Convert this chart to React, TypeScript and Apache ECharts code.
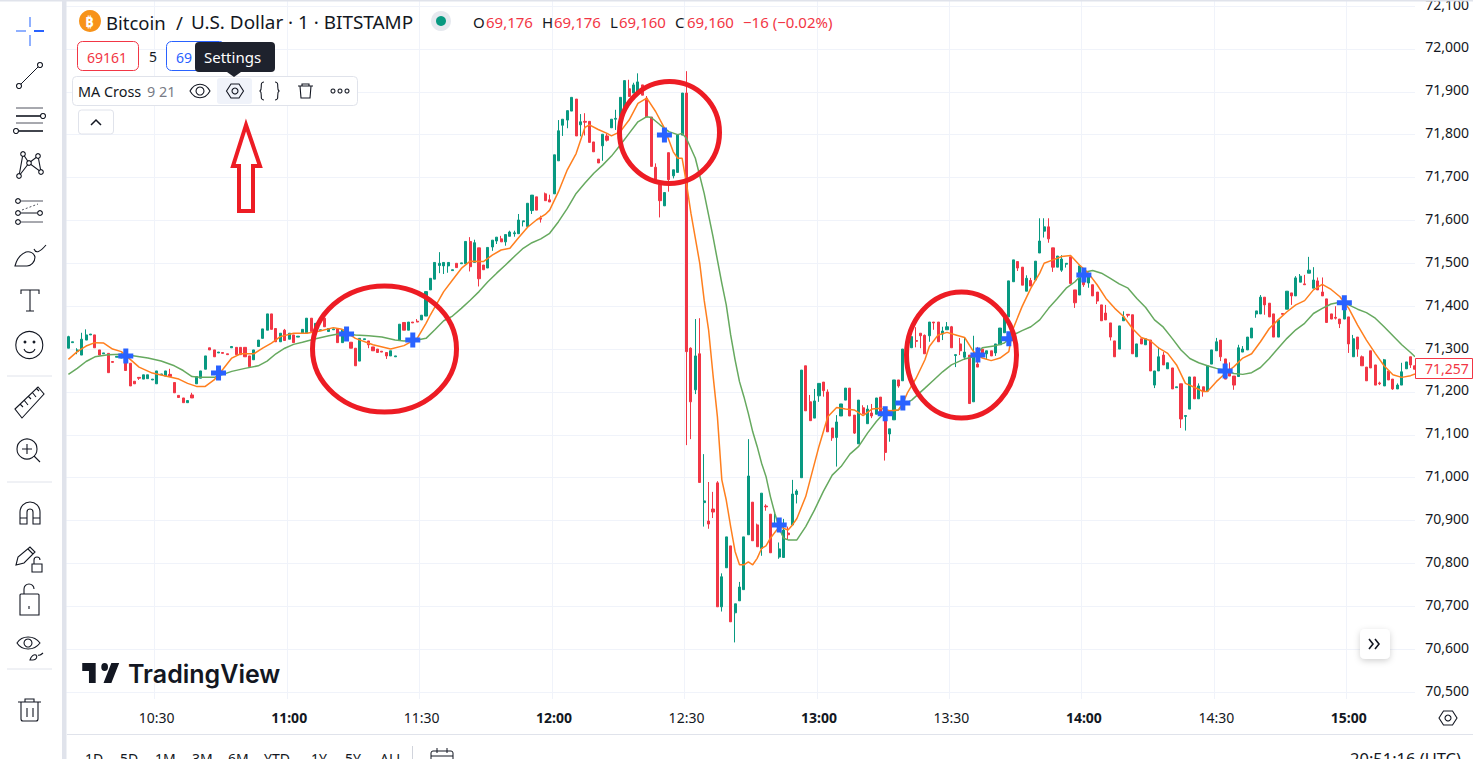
import React, { useEffect, useRef } from "react";
import * as echarts from "echarts";

const FONT = '"Noto Sans", sans-serif';
const INK = "#131722";
const RED = "#f23645";
const GREEN = "#089981";
const MARK_RED = "#ed1c24";
const BLUE = "#2962ff";
const GRID = "#f0f3fa";

const START_MINUTE = 10 * 60 + 10;
const priceTicks = [70500, 70600, 70700, 70800, 70900, 71000, 71100, 71200, 71300, 71400, 71500, 71600, 71700, 71800, 71900, 72000, 72100];

// [open, close, low, high] per minute
const candlesA = [
[71302,71329,71302,71331],[71315,71317,71315,71317],[71294,71298,71288,71302],[71286,71323,71286,71338],[71321,71333,71321,71346],[71333,71335,71333,71335],[71333,71303,71303,71333],[71298,71286,71286,71298],[71289,71291,71289,71291],[71290,71245,71245,71290],
[71271,71269,71269,71271],[71281,71283,71281,71283],[71279,71288,71279,71290],[71286,71250,71250,71298],[71267,71214,71214,71267],[71225,71219,71219,71225],[71234,71232,71228,71234],[71230,71240,71230,71240],[71231,71240,71231,71240],[71228,71230,71228,71230],
[71219,71249,71219,71249],[71240,71242,71240,71242],[71237,71249,71237,71249],[71241,71236,71236,71254],[71222,71198,71198,71222],[71192,71187,71187,71192],[71186,71175,71175,71186],[71175,71180,71175,71180],[71193,71186,71186,71198],[71219,71236,71219,71236],
[71232,71249,71232,71249],[71253,71284,71253,71284],[71303,71298,71298,71303],[71298,71282,71282,71298],[71291,71293,71291,71293],[71292,71290,71290,71292],[71289,71287,71287,71289],[71303,71306,71303,71306],[71304,71287,71287,71304],[71304,71287,71287,71304],
[71304,71282,71282,71304],[71284,71259,71259,71284],[71275,71298,71275,71298],[71306,71321,71306,71321],[71325,71347,71325,71347],[71344,71382,71344,71382],[71382,71346,71346,71382],[71348,71317,71317,71348],[71317,71337,71317,71337],[71344,71320,71320,71347],
[71323,71337,71323,71337],[71333,71315,71315,71333],[71328,71330,71328,71330],[71337,71346,71337,71346],[71337,71372,71337,71372],[71372,71341,71341,71372],[71344,71360,71344,71360],[71343,71345,71343,71345],[71372,71352,71352,71372],[71341,71348,71341,71348],
[71345,71347,71345,71347],[71348,71315,71315,71348],[71315,71345,71315,71345],[71345,71333,71333,71345],[71316,71302,71302,71316],[71302,71261,71261,71302],[71272,71325,71272,71325],[71322,71324,71322,71324],[71319,71310,71302,71319],[71305,71296,71296,71305],
[71300,71292,71292,71300],[71295,71293,71293,71295],[71292,71284,71277,71292],[71284,71296,71284,71296],[71282,71284,71282,71284],[71320,71358,71320,71358],[71362,71344,71344,71362],[71344,71363,71344,71363],[71363,71361,71361,71363],[71365,71363,71363,71370],
];
const candlesB = [
[71368,71379,71368,71379],[71377,71434,71377,71434],[71438,71465,71438,71465],[71463,71502,71463,71502],[71495,71500,71477,71526],[71494,71502,71475,71502],[71494,71502,71478,71502],[71483,71485,71483,71485],[71500,71490,71490,71500],[71499,71501,71499,71501],
[71499,71551,71499,71551],[71551,71492,71481,71561],[71502,71548,71502,71555],[71536,71464,71446,71536],[71496,71485,71485,71496],[71489,71537,71489,71537],[71538,71554,71529,71554],[71552,71561,71545,71561],[71557,71550,71550,71564],[71550,71567,71541,71567],
[71563,71573,71563,71576],[71569,71571,71562,71576],[71569,71601,71569,71615],[71597,71599,71586,71599],[71586,71640,71586,71640],[71623,71659,71615,71659],[71655,71624,71624,71655],[71605,71603,71595,71611],[71662,71646,71646,71665],[71648,71643,71643,71660],
[71662,71753,71662,71753],[71739,71809,71739,71834],[71822,71836,71797,71836],[71834,71856,71815,71856],[71855,71887,71855,71887],[71883,71797,71797,71883],[71823,71830,71796,71848],[71831,71829,71798,71850],[71831,71782,71782,71831],[71783,71760,71760,71783],
[71743,71734,71734,71743],[71774,71801,71739,71801],[71797,71787,71784,71803],[71816,71836,71816,71836],[71836,71838,71811,71858],[71834,71887,71834,71887],[71858,71926,71858,71926],[71907,71889,71889,71928],[71897,71916,71897,71921],[71897,71923,71897,71943],
[71916,71892,71892,71916],[71885,71841,71841,71890],[71841,71726,71726,71841],[71724,71695,71695,71733],[71683,71646,71607,71683],[71634,71665,71634,71665],[71758,71695,71667,71758],[71704,71718,71698,71718],[71712,71799,71712,71799],[71799,71897,71799,71897],
];
const candlesC = [
[71897,71294,71076,71948],[71302,71177,71090,71304],[71205,71284,71195,71370],[71289,70989,70989,71372],[70942,70946,70886,71055],[70899,70892,70881,70990],[70927,70920,70906,70967],[70988,70699,70699,70992],[70699,70769,70688,70777],[70790,70862,70790,70862],
[70841,70664,70664,70841],[70685,70706,70616,70706],[70713,70745,70713,70757],[70739,70862,70739,70862],[70867,71004,70867,71090],[70943,70853,70853,70943],[70890,70839,70839,70893],[70835,70964,70818,70964],[70934,70932,70923,70938],[70915,70825,70825,70915],
[70890,70893,70886,70922],[70815,70834,70811,70849],[70814,70878,70814,70904],[70871,70867,70855,70886],[70890,70962,70890,70995],[70961,70969,70940,70973],[71000,71251,71000,71251],[71261,71156,71156,71261],[71177,71133,71133,71193],[71139,71179,71139,71207],
[71191,71220,71177,71220],[71223,71203,71189,71223],[71200,71107,71107,71206],[71116,71093,71086,71116],[71094,71130,71026,71146],[71144,71172,71144,71172],[71181,71209,71181,71209],[71209,71144,71144,71209],[71146,71104,71102,71146],[71079,71181,71079,71181],
[71163,71149,71149,71169],[71126,71160,71126,71169],[71151,71144,71139,71172],[71148,71186,71148,71186],[71188,71151,71151,71188],[71156,71059,71040,71156],[71102,71114,71084,71114],[71135,71228,71135,71228],[71228,71214,71210,71228],[71226,71300,71226,71300],
];
const candlesD = [
[71289,71298,71289,71298],[71303,71329,71303,71329],[71320,71318,71304,71351],[71337,71331,71302,71337],[71332,71289,71289,71334],[71331,71363,71317,71363],[71363,71361,71345,71363],[71363,71317,71317,71363],[71335,71342,71321,71352],[71345,71352,71345,71363],
[71352,71303,71303,71354],[71285,71287,71258,71287],[71312,71296,71286,71326],[71281,71293,71275,71326],[71286,71173,71173,71286],[71177,71286,71177,71331],[71265,71258,71258,71305],[71300,71289,71289,71300],[71289,71296,71277,71296],[71296,71284,71284,71296],
[71291,71312,71284,71312],[71310,71349,71310,71349],[71338,71375,71338,71375],[71375,71459,71375,71459],[71457,71508,71457,71508],[71504,71489,71482,71504],[71491,71449,71449,71491],[71435,71465,71435,71472],[71460,71447,71447,71466],[71461,71505,71461,71505],
[71524,71552,71524,71605],[71575,71585,71560,71605],[71585,71557,71548,71605],[71536,71491,71480,71536],[71491,71517,71491,71517],[71484,71510,71480,71519],[71498,71500,71490,71500],[71515,71453,71453,71515],[71438,71408,71396,71438],[71426,71494,71426,71494],
[71482,71450,71445,71482],[71454,71473,71443,71473],[71450,71424,71424,71450],[71433,71412,71405,71433],[71403,71366,71366,71403],[71384,71368,71368,71403],[71361,71328,71320,71361],[71319,71282,71282,71319],[71300,71354,71300,71354],[71366,71375,71366,71388],
[71381,71379,71374,71381],[71380,71289,71289,71380],[71282,71312,71282,71312],[71324,71312,71312,71324],[71310,71324,71310,71324],[71321,71249,71249,71321],[71216,71249,71209,71249],[71249,71282,71249,71305],[71286,71263,71263,71293],[71254,71268,71254,71268],
[71256,71207,71207,71256],[71210,71212,71210,71212],
];
const candlesE = [
[71219,71137,71116,71219],[71143,71145,71110,71145],[71160,71235,71160,71235],[71235,71184,71184,71235],[71184,71214,71184,71220],[71212,71201,71189,71212],[71202,71261,71202,71261],[71265,71298,71265,71298],[71296,71317,71296,71326],[71321,71282,71272,71321],
[71277,71230,71230,71277],[71247,71237,71237,71269],[71237,71216,71205,71237],[71236,71303,71236,71310],[71293,71300,71293,71307],[71298,71328,71298,71328],[71326,71349,71326,71349],[71382,71389,71373,71389],[71382,71421,71382,71426],[71421,71403,71380,71421],
[71407,71375,71375,71407],[71382,71328,71328,71382],[71328,71368,71328,71368],[71383,71381,71381,71383],[71393,71435,71393,71435],[71431,71424,71403,71431],[71424,71466,71424,71470],[71456,71470,71456,71475],[71452,71450,71450,71473],[71477,71484,71477,71515],
[71442,71461,71442,71491],[71459,71438,71438,71467],[71433,71424,71424,71467],[71417,71362,71362,71417],[71382,71370,71370,71382],[71374,71372,71369,71400],[71370,71359,71349,71370],[71370,71405,71370,71405],[71375,71312,71291,71375],[71282,71324,71282,71333],
[71328,71300,71282,71328],[71282,71261,71261,71285],[71258,71226,71226,71258],[71296,71256,71256,71296],[71263,71216,71216,71263],[71221,71219,71216,71224],[71214,71275,71214,71277],[71249,71228,71228,71249],[71230,71207,71205,71230],[71207,71216,71207,71220],
[71216,71247,71216,71268],[71254,71270,71254,71270],[71282,71263,71256,71282],[71261,71253,71253,71261],
];
const candles = [...candlesA, ...candlesB, ...candlesC, ...candlesD, ...candlesE];

// [bar index, price]
const fastMA = [[0,71276],[2,71294],[4,71307],[6,71315],[8,71314],[10,71300],[12,71294],[14,71276],[16,71258],[19,71244],[22,71237],[25,71230],[27,71220],[29,71213],[31,71213],[33,71228],[35,71253],[37,71279],[39,71289],[42,71289],[44,71302],[46,71314],[48,71329],[51,71337],[54,71337],[57,71342],[60,71350],[62,71346],[65,71325],[69,71310],[73,71300],[76,71308],[79,71325],[81,71360],[82,71380],[85,71434],[87,71461],[89,71488],[91,71505],[94,71504],[96,71519],[98,71531],[100,71535],[102,71560],[104,71584],[106,71601],[108,71614],[109,71624],[111,71667],[113,71718],[115,71756],[117,71817],[118,71823],[120,71812],[122,71803],[123,71797],[125,71807],[127,71834],[129,71873],[131,71885],[133,71854],[135,71815],[137,71760],[138,71745],[139,71745],[140,71686],[141,71617],[143,71500],[144,71414],[145,71345],[146,71240],[147,71142],[148,70995],[149,70948],[150,70886],[151,70828],[152,70797],[153,70797],[154,70804],[155,70797],[156,70812],[157,70835],[158,70841],[159,70859],[161,70886],[163,70878],[164,70890],[165,70905],[167,70956],[168,70995],[170,71073],[172,71142],[174,71164],[176,71160],[178,71158],[180,71145],[182,71160],[184,71162],[186,71156],[188,71158],[189,71174],[190,71197],[192,71232],[194,71275],[195,71306],[197,71333],[199,71339],[201,71333],[203,71327],[205,71294],[207,71279],[209,71273],[211,71279],[213,71294],[214,71348],[216,71399],[218,71442],[220,71477],[221,71500],[223,71508],[225,71516],[227,71518],[229,71496],[231,71477],[233,71450],[235,71418],[237,71395],[239,71376],[241,71348],[243,71327],[245,71320],[247,71302],[249,71290],[251,71263],[253,71220],[255,71211],[257,71201],[258,71201],[260,71224],[262,71243],[264,71259],[266,71279],[268,71289],[270,71317],[272,71348],[274,71368],[276,71387],[278,71403],[280,71413],[282,71438],[284,71451],[286,71439],[288,71422],[290,71395],[292,71356],[294,71321],[296,71290],[298,71261],[300,71240],[302,71234],[304,71238],[305,71242]];
const slowMA = [[0,71241],[2,71255],[4,71271],[6,71282],[9,71287],[12,71288],[15,71284],[18,71279],[21,71272],[24,71261],[26,71250],[28,71236],[30,71234],[33,71234],[35,71241],[37,71248],[40,71255],[43,71261],[45,71272],[47,71289],[49,71302],[51,71311],[53,71316],[56,71324],[59,71331],[62,71337],[65,71333],[68,71331],[71,71328],[74,71321],[76,71319],[79,71321],[81,71325],[83,71345],[85,71366],[87,71377],[89,71395],[91,71414],[93,71434],[95,71457],[97,71477],[99,71496],[101,71516],[103,71535],[105,71548],[107,71557],[109,71570],[111,71597],[113,71628],[115,71663],[117,71687],[119,71710],[121,71729],[123,71750],[125,71776],[127,71803],[129,71830],[131,71842],[132,71840],[134,71823],[136,71807],[138,71800],[139,71803],[140,71791],[142,71745],[144,71663],[146,71562],[148,71453],[149,71403],[150,71333],[151,71275],[152,71224],[153,71189],[154,71150],[155,71107],[156,71073],[157,71034],[158,71003],[159,70956],[160,70917],[161,70882],[162,70859],[163,70855],[165,70855],[167,70886],[169,70925],[171,70968],[173,71006],[175,71026],[177,71055],[179,71073],[181,71104],[183,71131],[185,71154],[187,71156],[188,71158],[189,71170],[191,71181],[194,71209],[196,71228],[198,71247],[200,71263],[203,71277],[205,71282],[207,71303],[210,71308],[212,71314],[214,71333],[216,71343],[218,71352],[220,71368],[222,71395],[224,71418],[226,71442],[228,71457],[230,71479],[232,71483],[234,71477],[236,71465],[238,71452],[240,71442],[242,71418],[244,71397],[246,71368],[248,71351],[250,71325],[252,71298],[254,71278],[256,71268],[258,71261],[260,71255],[262,71250],[264,71243],[266,71241],[268,71245],[270,71257],[272,71278],[274,71302],[276,71325],[278,71345],[280,71360],[282,71383],[284,71395],[286,71405],[288,71409],[290,71403],[292,71393],[294,71385],[296,71372],[298,71352],[300,71331],[302,71310],[304,71292],[305,71282]];
// [bar index, price] of the blue cross signals
const crossSignals = [[13,71284],[34,71244],[63,71335],[78,71321],[135,71799],[161,70890],[185,71149],[189,71174],[206,71286],[213,71324],[230,71473],[262,71249],[289,71408]];

const lastPrice = 71257;
const drawTools = ["1D", "5D", "1M", "3M", "6M", "YTD", "1Y", "5Y", "ALL"];
const drawToolX = [85, 120, 155, 192, 228, 264, 311, 345, 380];

const iconPaths: Record<string, string> = {
  brush: "M15 266C17 258 21 254 26 252C30 251 34 253 35 257C35 262 31 266 27 266ZM15 266H27M34 249C36 254 40 252 46 245",
  text: "M21 294V290H39V294M30 290V311M26 311H34",
  mouth: "M24 349A6 6 0 0 0 35 349",
  ruler: "M15 409L38 387L44 394L22 418ZM20 404L23 407M24 400L28 405M28 396L31 399M32 392L36 397M36 388L39 391",
  magnifier: "M34 456L40 462M27 444V454M22 449H32",
  magnet: "M20 524V512A10 10 0 0 1 40 512V524H33V512A3 3 0 0 0 27 512V524ZM20 518H27M33 518H40",
  pencil: "M16 565L18 557L30 547L35 552L24 563ZM28 549L33 554",
  lockSmall: "M32 564H42V572H32ZM34 564V560A3 3 0 0 1 40 560",
  lock: "M21 594H38A1 1 0 0 1 39 595V615H20V595A1 1 0 0 1 21 594ZM24 594V589A5 5 0 0 1 34 589M29 606V609",
  eye: "M17 643C22 635 34 635 40 643C34 651 22 651 17 643Z",
  eyeBrush: "M30 660C31 656 34 654 36 655C38 657 36 660 33 660ZM38 655C40 656 42 654 43 653",
  trash: "M18 702H41M21 702V719A2 2 0 0 0 23 721H36A2 2 0 0 0 38 719V702M25 702V699H34V702M27 708V717M33 708V717",
  smallEye: "M190 91C195 82 205 82 210 91C205 100 195 100 190 91Z",
  braces: "M264 82C259 82 263 89 260 91C263 93 259 100 264 100M275 82C280 82 276 89 279 91C276 93 280 100 275 100",
  smallTrash: "M298 86H313M300 86L301 98H310L311 86M302 86V84H309V86",
  tvLogo: "M14 6H2V12H8V21H14ZM28 21H21L28 6H35ZM22 12A3 3 0 1 0 22 6A3 3 0 1 0 22 12Z",
};
Object.keys(iconPaths).forEach((k) => {
  echarts.graphic.registerShape("ic_" + k, echarts.graphic.extendPath(iconPaths[k], {}) as any);
});

const icon = (k: string, lw = 1.1, stroke = INK) => ({ type: "ic_" + k, x: 0, y: 0, silent: true, z: 50, style: { fill: "none", stroke, lineWidth: lw } });
const ln = (x1: number, y1: number, x2: number, y2: number, stroke = INK, lw = 1, z = 50) => ({ type: "line", silent: true, z, shape: { x1, y1, x2, y2 }, style: { stroke, lineWidth: lw } });
const circ = (cx: number, cy: number, r: number, stroke = INK, fill = "none", lw = 1.1) => ({ type: "circle", silent: true, z: 50, shape: { cx, cy, r }, style: { stroke, fill, lineWidth: lw } });
const box = (x: number, y: number, width: number, height: number, fill: string, stroke = "none", r = 0, z = 40) => ({ type: "rect", silent: true, z, shape: { x, y, width, height, r }, style: { fill, stroke, lineWidth: 1 } });
const txt = (text: string, x: number, y: number, fill = INK, fontSize = 14, extra: any = {}) => ({
  type: "text", silent: true, z: 60, x, y,
  style: { text, fill, fontSize, fontFamily: FONT, textAlign: "left", textVerticalAlign: "middle", ...extra },
});
const ring = (cx: number, cy: number, rx: number, ry: number) => ({ type: "ellipse", silent: true, z: 70, shape: { cx, cy, rx, ry }, style: { fill: "none", stroke: MARK_RED, lineWidth: 5 } });

const fmt = (v: number) => v.toLocaleString("en-US");

const sideToolbar = [
  ln(16, 31, 26, 31, "#8fb0ff", 2), ln(34, 31, 44, 31, BLUE, 2), ln(30, 17, 30, 27, "#8fb0ff", 2), ln(30, 35, 30, 46, "#8fb0ff", 2),
  ln(21, 84, 38, 67), circ(19, 86, 2.5), circ(40, 65, 2.5),
  ln(16, 108, 43, 108, "#50535e"), ln(16, 116, 41, 116, INK, 1.6), circ(43, 116, 2.5), ln(16, 123, 43, 123, "#50535e"), ln(19, 131, 43, 131, INK, 1.6), circ(16, 131, 2.5),
  { type: "polyline", silent: true, z: 50, shape: { points: [[19, 176], [23, 154], [29, 163], [38, 156], [41, 172], [29, 163], [19, 176]] }, style: { fill: "none", stroke: INK, lineWidth: 1.1 } },
  circ(23, 154, 2.3, INK, "#fff"), circ(38, 156, 2.3, INK, "#fff"), circ(29, 163, 2.3, INK, "#fff"), circ(19, 176, 2.3, INK, "#fff"), circ(41, 172, 2.3, INK, "#fff"),
  ln(21, 201, 43, 201, "#50535e"), circ(18, 201, 2.4), ln(21, 213, 37, 213), circ(18, 213, 2.4), circ(40, 213, 2.4), ln(21, 222, 43, 222, "#50535e"), circ(18, 222, 2.4),
  { ...ln(22, 210, 38, 204, "#50535e"), style: { stroke: "#50535e", lineWidth: 1, lineDash: [2, 2] } },
  icon("brush"), icon("text"), circ(29.3, 345, 13.5), circ(25, 342, 0.9, INK, INK), circ(34, 342, 0.9, INK, INK), icon("mouth"),
  ln(7, 376, 52, 376, "#e0e3eb"), icon("ruler"), circ(27, 449, 10), icon("magnifier"),
  ln(7, 482, 52, 482, "#e0e3eb"), icon("magnet"), icon("pencil"), icon("lockSmall"), icon("lock"),
  icon("eye"), circ(28, 643, 4), icon("eyeBrush"),
  ln(7, 669, 52, 669, "#e0e3eb"), icon("trash"),
];

const legendBlock = [
  { type: "circle", silent: true, z: 50, shape: { cx: 90, cy: 21, r: 11 }, style: { fill: "#f7931a" } },
  txt("₿", 85, 21, "#fff", 15, { fontWeight: 700 }),
  txt("Bitcoin", 106, 22, INK, 18.5), txt("/", 176, 22, INK, 18.5), txt("U.S. Dollar · 1 · BITSTAMP", 191, 22, INK, 18.9),
  circ(441, 21, 10, "none", "#e6e9ef", 0), circ(441, 21, 5, "none", GREEN, 0),
  txt("O", 473, 21.5, INK, 15), txt("69,176", 486, 21.5, RED, 15), txt("H", 542, 21.5, INK, 15), txt("69,176", 554, 21.5, RED, 15),
  txt("L", 610, 21.5, INK, 15), txt("69,160", 619, 21.5, RED, 15), txt("C", 675, 21.5, INK, 15), txt("69,160", 687, 21.5, RED, 15), txt("−16 (−0.02%)", 743, 21.5, RED, 15),
  box(77.5, 41.5, 61, 29, "#fff", RED, 5), txt("69161", 87, 57, RED),
  txt("5", 149, 56),
  box(166.5, 41.5, 58, 29, "#fff", BLUE, 5), txt("69", 176, 57, BLUE),
  box(195, 42, 80, 30, "#1e222d", "none", 4, 55),
  { type: "polygon", silent: true, z: 55, shape: { points: [[227, 72], [234, 77], [241, 72]] }, style: { fill: "#1e222d" } },
  txt("Settings", 204, 57, "#fff", 15),
  box(72.5, 76.5, 285, 29, "#fff", "#e0e3eb", 4),
  box(217, 78, 35, 26, "#f0f3fa", "none", 3, 45),
  txt("MA Cross", 78, 91, INK, 14.4), txt("9 21", 147, 91, "#787b86", 14.4),
  icon("smallEye"), circ(200, 91, 4),
  { type: "polygon", silent: true, z: 50, shape: { points: [[226.5, 91], [231, 84], [239, 84], [243.5, 91], [239, 98], [231, 98]] }, style: { fill: "none", stroke: INK, lineWidth: 1.1 } },
  circ(235, 91, 3), icon("braces"), icon("smallTrash"),
  circ(333, 91, 2), circ(340, 91, 2), circ(347, 91, 2),
  box(78.5, 110, 35, 24, "#fff", "#e0e3eb", 3),
  { type: "polyline", silent: true, z: 50, shape: { points: [[91, 125], [96, 120], [101, 125]] }, style: { fill: "none", stroke: INK, lineWidth: 1.5 } },
];

const bottomBlock = [
  { type: "ic_tvLogo", silent: true, z: 50, x: 80, y: 655, scaleX: 1.12, scaleY: 1.33, style: { fill: INK } },
  txt("TradingView", 128, 674, INK, 25, { fontFamily: "Inter, sans-serif", fontWeight: 600 }),
  ln(67, 734.5, 1473, 734.5, "#e0e3eb", 1),
  ...drawTools.map((t, i) => txt(t, drawToolX[i], 758, INK, 14)),
  ln(412.5, 746, 412.5, 759, "#d1d4dc", 1),
  { ...box(431, 751, 22, 14, "#fff", INK, 2, 50) }, ln(431, 756, 453, 756), ln(437, 748, 437, 753), ln(447, 748, 447, 753),
  txt("20:51:16 (UTC)", 1350, 758, INK, 16.5),
  { type: "polygon", silent: true, z: 50, shape: { points: [[1439, 718], [1443.5, 711], [1452.5, 711], [1457, 718], [1452.5, 725], [1443.5, 725]] }, style: { fill: "none", stroke: INK, lineWidth: 1.1 } },
  circ(1448, 718, 3),
  { ...box(1360, 629, 30, 30, "#fff", "none", 5, 45), style: { fill: "#fff", shadowBlur: 6, shadowColor: "rgba(0,0,0,0.18)", shadowOffsetY: 2 } },
  { type: "polyline", silent: true, z: 50, shape: { points: [[1369, 639], [1373, 644], [1369, 649]] }, style: { fill: "none", stroke: INK, lineWidth: 1.6 } },
  { type: "polyline", silent: true, z: 50, shape: { points: [[1375, 639], [1379, 644], [1375, 649]] }, style: { fill: "none", stroke: INK, lineWidth: 1.6 } },
];

export default function App() {
  const ref = useRef<HTMLDivElement>(null);
  useEffect(() => {
    document.body.style.margin = "0";
    const chart = echarts.init(ref.current!, undefined, { renderer: "svg" });
    const categories = candles.map((_, i) => {
      const m = START_MINUTE + i;
      return `${Math.floor(m / 60)}:${String(m % 60).padStart(2, "0")}`;
    });
    const isTick = (i: number) => (START_MINUTE + i) % 30 === 0;
    chart.setOption({
      animation: false,
      backgroundColor: "#fff",
      grid: { left: 66.2, top: 0, width: 1351, height: 699, outerBoundsMode: "none" },
      xAxis: {
        type: "category",
        data: categories,
        axisLine: { show: false },
        axisTick: { show: false },
        splitLine: { show: true, interval: (i: number) => isTick(i), lineStyle: { color: GRID, width: 1 } },
        axisLabel: {
          interval: (i: number) => isTick(i),
          margin: 11,
          color: INK,
          fontSize: 14,
          fontFamily: FONT,
          hideOverlap: false,
          formatter: (v: string) => (v.endsWith(":00") ? `{b|${v}}` : v),
          rich: { b: { fontWeight: 700, fontSize: 14, fontFamily: FONT, color: INK } },
        },
      },
      yAxis: {
        type: "value",
        position: "right",
        min: 70484,
        max: 72114,
        axisLine: { show: false },
        axisTick: { show: false, customValues: priceTicks },
        splitLine: { show: true, lineStyle: { color: GRID, width: 1 } },
        axisLabel: {
          customValues: priceTicks,
          margin: 8,
          color: INK,
          fontSize: 14,
          fontFamily: FONT,
          showMinLabel: true,
          showMaxLabel: true,
          formatter: (v: number) => `{p|${fmt(v)}}`,
          rich: { p: { fontSize: 14, fontFamily: FONT, color: INK, padding: [0, 0, 4, 0] } },
        },
      },
      series: [
        {
          type: "candlestick",
          data: candles,
          barWidth: 2.6,
          z: 2,
          itemStyle: { color: GREEN, color0: RED, borderColor: GREEN, borderColor0: RED, borderWidth: 1 },
        },
        { type: "line", data: slowMA, showSymbol: false, z: 3, lineStyle: { color: "#66a95f", width: 1.5 } },
        { type: "line", data: fastMA, showSymbol: false, z: 4, lineStyle: { color: "#ff7f1e", width: 1.5 } },
        {
          type: "scatter",
          data: crossSignals,
          z: 5,
          symbol: "path://M5 0H10V5H15V10H10V15H5V10H0V5H5Z",
          symbolSize: 15,
          itemStyle: { color: BLUE, opacity: 1 },
        },
      ],
      graphic: [
        box(0, 0, 62, 759, "#fff", "none", 0, 30),
        box(62, 0, 4.5, 759, "#e0e3eb", "none", 0, 35),
        box(0, 0, 1473, 1.5, "#e0e3eb", "none", 0, 35),
        box(1415, 0, 3, 734, "#fff", "none", 0, 30),
        box(1415.5, 358.5, 57, 20, "#fff", RED, 0, 40),
        txt(fmt(lastPrice), 1425, 368, RED),
        ...sideToolbar,
        ...legendBlock,
        ...bottomBlock,
        ring(384.5, 349, 72, 63),
        ring(669.5, 132.5, 50, 51),
        ring(961.5, 355, 55, 63),
        {
          type: "polygon", silent: true, z: 70,
          shape: { points: [[246, 125], [233, 166], [239, 166], [239, 211], [253, 211], [253, 166], [260, 166]] },
          style: { fill: "none", stroke: MARK_RED, lineWidth: 4 },
        },
      ],
    });
    return () => chart.dispose();
  }, []);
  return <div ref={ref} style={{ width: 1473, height: 759 }} />;
}
